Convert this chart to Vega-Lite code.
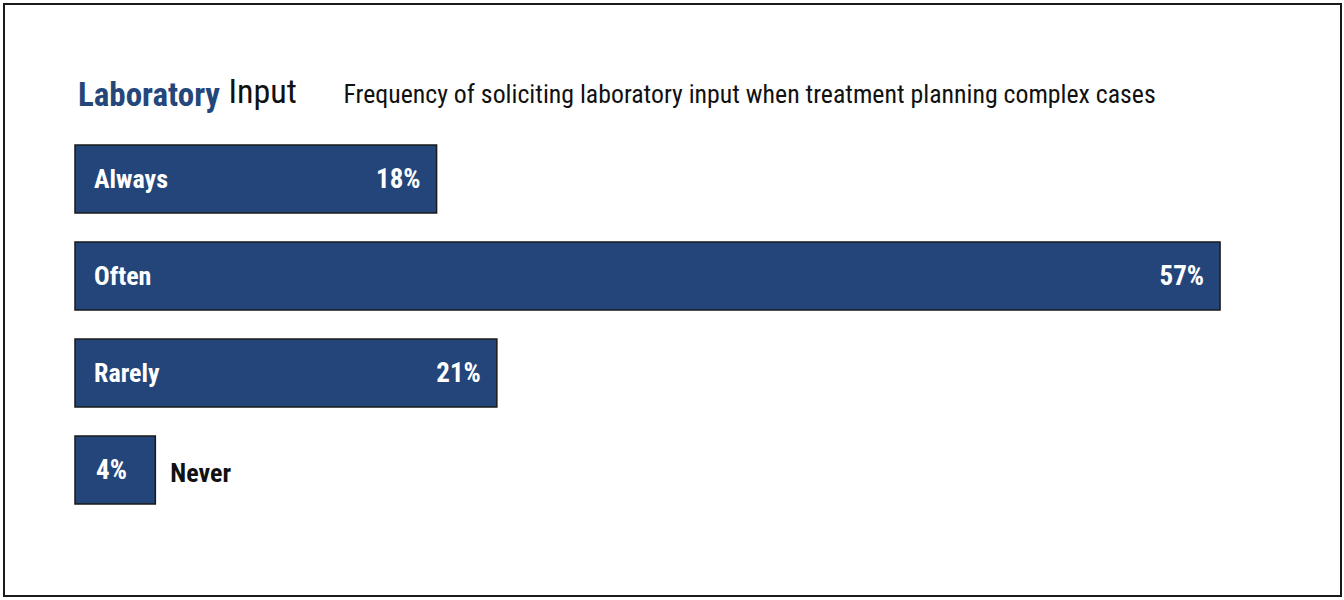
{
  "$schema": "https://vega.github.io/schema/vega-lite/v6.json",
  "width": 1337,
  "height": 592,
  "autosize": {"type": "none"},
  "padding": {"left": 4, "top": 4, "right": 3, "bottom": 4},
  "background": "white",
  "config": {
    "view": {"stroke": "#1a1a1a", "strokeWidth": 2},
    "font": "Roboto Condensed, Noto Sans Condensed, Liberation Sans Narrow, DejaVu Sans Condensed, sans-serif"
  },
  "title": {
    "text": "Laboratory",
    "anchor": "start",
    "frame": "group",
    "dx": 74,
    "offset": -135,
    "baseline": "alphabetic",
    "font": "Roboto Condensed, Noto Sans Condensed, Liberation Sans Narrow, DejaVu Sans Condensed, sans-serif",
    "fontSize": 33,
    "fontWeight": "bold",
    "color": "#24467A"
  },
  "data": {
    "values": [
      {"category": "Always", "value": 0.18},
      {"category": "Often", "value": 0.57},
      {"category": "Rarely", "value": 0.21},
      {"category": "Never", "value": 0.04}
    ]
  },
  "encoding": {
    "y": {
      "field": "category",
      "type": "nominal",
      "sort": ["Always", "Often", "Rarely", "Never"],
      "scale": {"range": [141, 500], "paddingInner": 0.299, "paddingOuter": 0},
      "axis": {
        "orient": "left",
        "labels": false,
        "ticks": false,
        "domain": false,
        "grid": false,
        "title": "Input",
        "titleAngle": 0,
        "titleX": 224,
        "titleY": 98,
        "titleAlign": "left",
        "titleBaseline": "alphabetic",
        "titleFont": "Roboto Condensed, Noto Sans Condensed, Liberation Sans Narrow, DejaVu Sans Condensed, sans-serif",
        "titleFontSize": 34,
        "titleFontWeight": "normal",
        "titleColor": "#111111"
      }
    }
  },
  "layer": [
    {
      "mark": {"type": "bar", "fill": "#24457A", "stroke": "#1a1a1a", "strokeWidth": 1.5},
      "encoding": {
        "x": {
          "field": "value",
          "type": "quantitative",
          "stack": null,
          "scale": {"domain": [-0.03534, 0.6302], "nice": false, "zero": false},
          "axis": {
            "orient": "top",
            "labels": false,
            "ticks": false,
            "domain": false,
            "grid": false,
            "title": "Frequency of soliciting laboratory input when treatment planning complex cases",
            "titleX": 339,
            "titleY": 98,
            "titleAlign": "left",
            "titleAnchor": "start",
            "titleBaseline": "alphabetic",
            "titleFont": "Roboto Condensed, Noto Sans Condensed, Liberation Sans Narrow, DejaVu Sans Condensed, sans-serif",
            "titleFontSize": 25.8,
            "titleFontWeight": "normal",
            "titleColor": "#111111"
          }
        }
      }
    },
    {
      "transform": [{"filter": "datum.value >= 0.1"}],
      "mark": {"type": "text", "align": "left", "baseline": "middle", "dx": 19, "dy": 1, "color": "white", "fontSize": 26, "fontWeight": "bold"},
      "encoding": {
        "x": {"datum": 0, "type": "quantitative"},
        "text": {"field": "category"}
      }
    },
    {
      "transform": [{"filter": "datum.value >= 0.1"}],
      "mark": {"type": "text", "align": "right", "baseline": "middle", "dx": -16, "dy": 1, "color": "white", "fontSize": 27, "fontWeight": "bold"},
      "encoding": {
        "x": {"field": "value", "type": "quantitative"},
        "text": {"field": "value", "type": "quantitative", "format": ".0%"}
      }
    },
    {
      "transform": [{"filter": "datum.value < 0.1"}],
      "mark": {"type": "text", "align": "left", "baseline": "middle", "dx": 21, "dy": 1, "color": "white", "fontSize": 27, "fontWeight": "bold"},
      "encoding": {
        "x": {"datum": 0, "type": "quantitative"},
        "text": {"field": "value", "type": "quantitative", "format": ".0%"}
      }
    },
    {
      "transform": [{"filter": "datum.value < 0.1"}],
      "mark": {"type": "text", "align": "left", "baseline": "middle", "dx": 15, "dy": 4, "color": "#111111", "fontSize": 26, "fontWeight": "bold"},
      "encoding": {
        "x": {"field": "value", "type": "quantitative"},
        "text": {"field": "category"}
      }
    }
  ]
}
